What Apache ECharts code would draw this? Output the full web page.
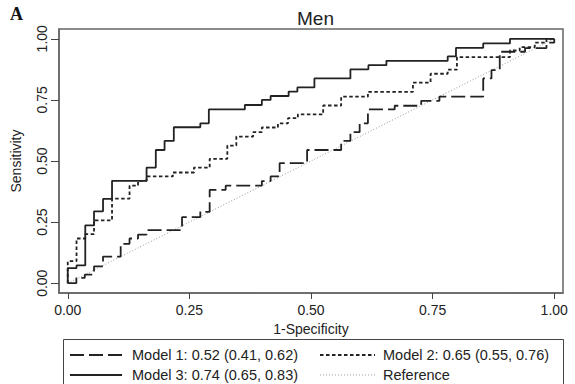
<!DOCTYPE html>
<html>
<head>
<meta charset="utf-8">
<script src="https://cdn.jsdelivr.net/npm/echarts@6/dist/echarts.min.js"></script>
<style>
html,body{margin:0;padding:0;background:#fff;}
#chart{width:575px;height:384px;}
</style>
</head>
<body>
<div id="chart"></div>
<script>
// ---- data ----
const tickValues = [0, 0.25, 0.5, 0.75, 1];
const tickLabels = ['0.00', '0.25', '0.50', '0.75', '1.00'];
const seriesNames = ['Model 1: 0.52 (0.41, 0.62)', 'Model 2: 0.65 (0.55, 0.76)', 'Model 3: 0.74 (0.65, 0.83)', 'Reference'];

// ROC step points [1-specificity, sensitivity]
const model1 = [[0,0],[0.0177,0.022],[0.035,0.035],[0.054,0.069],[0.0725,0.109],[0.1088,0.161],[0.127,0.183],[0.1445,0.199],[0.162,0.2175],[0.2349,0.270],[0.2725,0.292],[0.2917,0.382],[0.3246,0.399],[0.399,0.418],[0.417,0.437],[0.4355,0.491],[0.492,0.545],[0.562,0.582],[0.581,0.618],[0.600,0.654],[0.617,0.711],[0.672,0.726],[0.7265,0.746],[0.764,0.763],[0.854,0.838],[0.871,0.872],[0.888,0.947],[0.94,0.962],[0.984,0.984],[1,1]];
const model2 = [[0,0],[0,0.09],[0.018,0.183],[0.036,0.201],[0.054,0.257],[0.091,0.346],[0.127,0.399],[0.1445,0.419],[0.162,0.437],[0.216,0.453],[0.2595,0.473],[0.2917,0.509],[0.328,0.563],[0.3465,0.600],[0.381,0.618],[0.399,0.637],[0.432,0.654],[0.4527,0.675],[0.473,0.691],[0.525,0.727],[0.562,0.763],[0.617,0.783],[0.7095,0.821],[0.7458,0.857],[0.781,0.874],[0.800,0.925],[0.909,0.952],[0.929,0.966],[0.96,0.984],[0.984,1.0],[1,1]];
const model3 = [[0,0],[0,0.062],[0.018,0.073],[0.036,0.237],[0.054,0.294],[0.0725,0.345],[0.091,0.419],[0.162,0.473],[0.181,0.545],[0.199,0.582],[0.218,0.638],[0.2725,0.654],[0.290,0.711],[0.364,0.729],[0.399,0.750],[0.417,0.766],[0.454,0.784],[0.472,0.801],[0.507,0.838],[0.581,0.875],[0.618,0.892],[0.655,0.910],[0.781,0.928],[0.798,0.963],[0.854,0.981],[0.909,1.0],[1,1]];
const reference = [[0,0],[1,1]];

// ---- styles ----
const FONT = 'Liberation Sans, Arial, Helvetica, sans-serif';
const INK = '#222';
const styles = [
  {dash: [14, 5], width: 1.8, color: INK},      // Model 1
  {dash: [3.5, 2.5], width: 1.8, color: INK},   // Model 2
  {dash: 'solid', width: 1.8, color: INK},      // Model 3
  {dash: [1, 2], width: 1, color: '#999'}       // Reference
];
const seriesData = [model1, model2, model3, reference];
// legend layout: [column x of sample start, sample length, text x, row y]
const legendPos = [
  [70, 52, 132, 355],
  [320, 55, 383, 355],
  [70, 52, 132, 375],
  [320, 55, 383, 375]
];

const chart = echarts.init(document.getElementById('chart'), null, {renderer: 'svg'});
const fmt = v => { const i = tickValues.indexOf(v); return i >= 0 ? tickLabels[i] : ''; };

const series = seriesData.map((d, i) => ({
  name: seriesNames[i], type: 'line', data: d,
  step: i === 3 ? false : 'end',
  symbol: 'none', silent: true, z: i === 3 ? 1 : 2 + i,
  lineStyle: {color: styles[i].color, width: styles[i].width, type: styles[i].dash}
}));

const legendGraphics = [];
seriesNames.forEach((name, i) => {
  const [x0, len, tx, y] = legendPos[i];
  legendGraphics.push({
    type: 'line', silent: true,
    shape: {x1: x0, y1: y, x2: x0 + len, y2: y},
    style: {stroke: styles[i].color, lineWidth: styles[i].width, lineDash: styles[i].dash === 'solid' ? null : styles[i].dash}
  });
  legendGraphics.push({
    type: 'text', silent: true, x: tx, y: y,
    style: {text: name, fontFamily: FONT, fontSize: 14.5, fill: INK, textVerticalAlign: 'middle', verticalAlign: 'middle'}
  });
});

chart.setOption({
  animation: false,
  backgroundColor: '#fff',
  title: {
    text: 'Men', left: 292, top: 4,
    textStyle: {fontFamily: FONT, fontSize: 19, fontWeight: 'normal', color: INK}
  },
  grid: {left: 59, right: 12, top: 29, bottom: 91, show: true, borderColor: '#666', borderWidth: 1.5, backgroundColor: 'transparent'},
  xAxis: {
    type: 'value', min: -0.018, max: 1.018,
    name: '1-Specificity', nameLocation: 'middle', nameGap: 27,
    nameTextStyle: {fontFamily: FONT, fontSize: 14, color: INK},
    axisLine: {show: true, onZero: false, lineStyle: {color: '#666', width: 1.5}},
    axisTick: {show: true, length: 6, customValues: tickValues, lineStyle: {color: '#444'}},
    axisLabel: {customValues: tickValues, formatter: fmt, margin: 10, fontFamily: FONT, fontSize: 14, color: INK},
    splitLine: {show: false}
  },
  yAxis: {
    type: 'value', min: -0.04, max: 1.04,
    name: 'Sensitivity', nameLocation: 'middle', nameGap: 36, nameRotate: 90,
    nameTextStyle: {fontFamily: FONT, fontSize: 14, color: INK},
    axisLine: {show: true, onZero: false, lineStyle: {color: '#666', width: 1.5}},
    axisTick: {show: true, length: 8, customValues: tickValues, lineStyle: {color: '#444'}},
    axisLabel: {customValues: tickValues, formatter: fmt, rotate: 90, margin: 10, fontFamily: FONT, fontSize: 14, color: INK},
    splitLine: {show: false}
  },
  graphic: [
    {type: 'rect', silent: true, shape: {x: 63.5, y: 339.5, width: 500, height: 60}, style: {fill: 'none', stroke: '#444', lineWidth: 1}},
    {type: 'text', silent: true, x: 10, y: 5, style: {text: 'A', fontFamily: 'Liberation Serif, Times New Roman, serif', fontWeight: 'bold', fontSize: 18, fill: '#111'}}
  ].concat(legendGraphics),
  series
});
</script>
</body>
</html>
